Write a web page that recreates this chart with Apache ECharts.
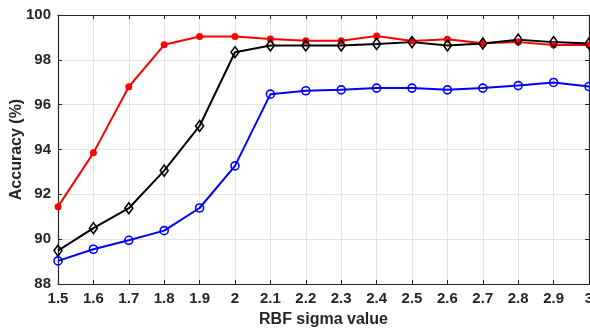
<!DOCTYPE html>
<html>
<head>
<meta charset="utf-8">
<script src="https://cdn.jsdelivr.net/npm/echarts@6/dist/echarts.min.js"></script>
<style>html,body{margin:0;padding:0;background:#fff}#c{width:590px;height:331px}</style>
</head>
<body>
<div id="c"></div>
<script>
const sigmaLabels = ['1.5','1.6','1.7','1.8','1.9','2','2.1','2.2','2.3','2.4','2.5','2.6','2.7','2.8','2.9','3'];
const redValues   = [91.45, 93.85, 96.8, 98.67, 99.04, 99.04, 98.93, 98.85, 98.85, 99.06, 98.84, 98.92, 98.74, 98.79, 98.66, 98.66];
const blackValues = [89.49, 90.49, 91.38, 93.06, 95.05, 98.34, 98.64, 98.64, 98.64, 98.71, 98.79, 98.64, 98.73, 98.9, 98.79, 98.73];
const blueValues  = [89.03, 89.55, 89.95, 90.38, 91.39, 93.27, 96.47, 96.62, 96.66, 96.74, 96.74, 96.66, 96.74, 96.85, 96.99, 96.81];
const yMin = 88, yMax = 100, yStep = 2;

const font = '"Liberation Sans", Arial, sans-serif';
const txt = '#262626';
const chart = echarts.init(document.getElementById('c'), null, {renderer: 'canvas'});
chart.setOption({
  animation: false,
  grid: {left: 58, right: 1, top: 15, bottom: 47, containLabel: false, outerBoundsMode: 'none'},
  xAxis: [{
    type: 'category', data: sigmaLabels, boundaryGap: false,
    name: 'RBF sigma value', nameLocation: 'middle', nameGap: 28, nameMoveOverlap: false,
    nameTextStyle: {fontFamily: font, fontWeight: 'bold', fontSize: 16, color: txt},
    axisLine: {lineStyle: {color: txt, width: 1.2}},
    axisTick: {inside: true, length: 4, lineStyle: {color: txt}},
    axisLabel: {fontFamily: font, fontWeight: 'bold', fontSize: 15, color: txt, margin: 7, interval: 0},
    splitLine: {show: true, lineStyle: {color: '#e3e3e3', width: 1}}
  }, {
    type: 'category', data: sigmaLabels, boundaryGap: false, position: 'top',
    axisLine: {lineStyle: {color: txt, width: 1.2}},
    axisTick: {inside: true, length: 4, lineStyle: {color: txt}},
    axisLabel: {show: false}, splitLine: {show: false}
  }],
  yAxis: [{
    type: 'value', min: yMin, max: yMax, interval: yStep,
    name: 'Accuracy (%)', nameLocation: 'middle', nameGap: 33, nameMoveOverlap: false,
    nameTextStyle: {fontFamily: font, fontWeight: 'bold', fontSize: 16, color: txt},
    axisLine: {show: true, lineStyle: {color: txt, width: 1.2}},
    axisTick: {show: true, inside: true, length: 4, lineStyle: {color: txt}},
    axisLabel: {fontFamily: font, fontWeight: 'bold', fontSize: 15, color: txt, margin: 7},
    splitLine: {show: true, lineStyle: {color: '#e3e3e3', width: 1}}
  }, {
    type: 'value', min: yMin, max: yMax, interval: yStep, position: 'right',
    axisLine: {show: true, lineStyle: {color: txt, width: 1.2}},
    axisTick: {show: true, inside: true, length: 4, lineStyle: {color: txt}},
    axisLabel: {show: false}, splitLine: {show: false}
  }],
  series: [{
    type: 'line', data: redValues, symbol: 'circle', symbolSize: 7,
    lineStyle: {color: '#ff0000', width: 2},
    itemStyle: {color: '#ff0000'}
  }, {
    type: 'line', data: blackValues, symbol: 'diamond', symbolSize: [8, 11],
    lineStyle: {color: '#000000', width: 2},
    itemStyle: {color: 'rgba(255,255,255,0)', borderColor: '#000000', borderWidth: 1.6}
  }, {
    type: 'line', data: blueValues, symbol: 'circle', symbolSize: 8,
    lineStyle: {color: '#0000ff', width: 2},
    itemStyle: {color: 'rgba(255,255,255,0)', borderColor: '#0000ff', borderWidth: 1.6}
  }]
});
</script>
</body>
</html>
